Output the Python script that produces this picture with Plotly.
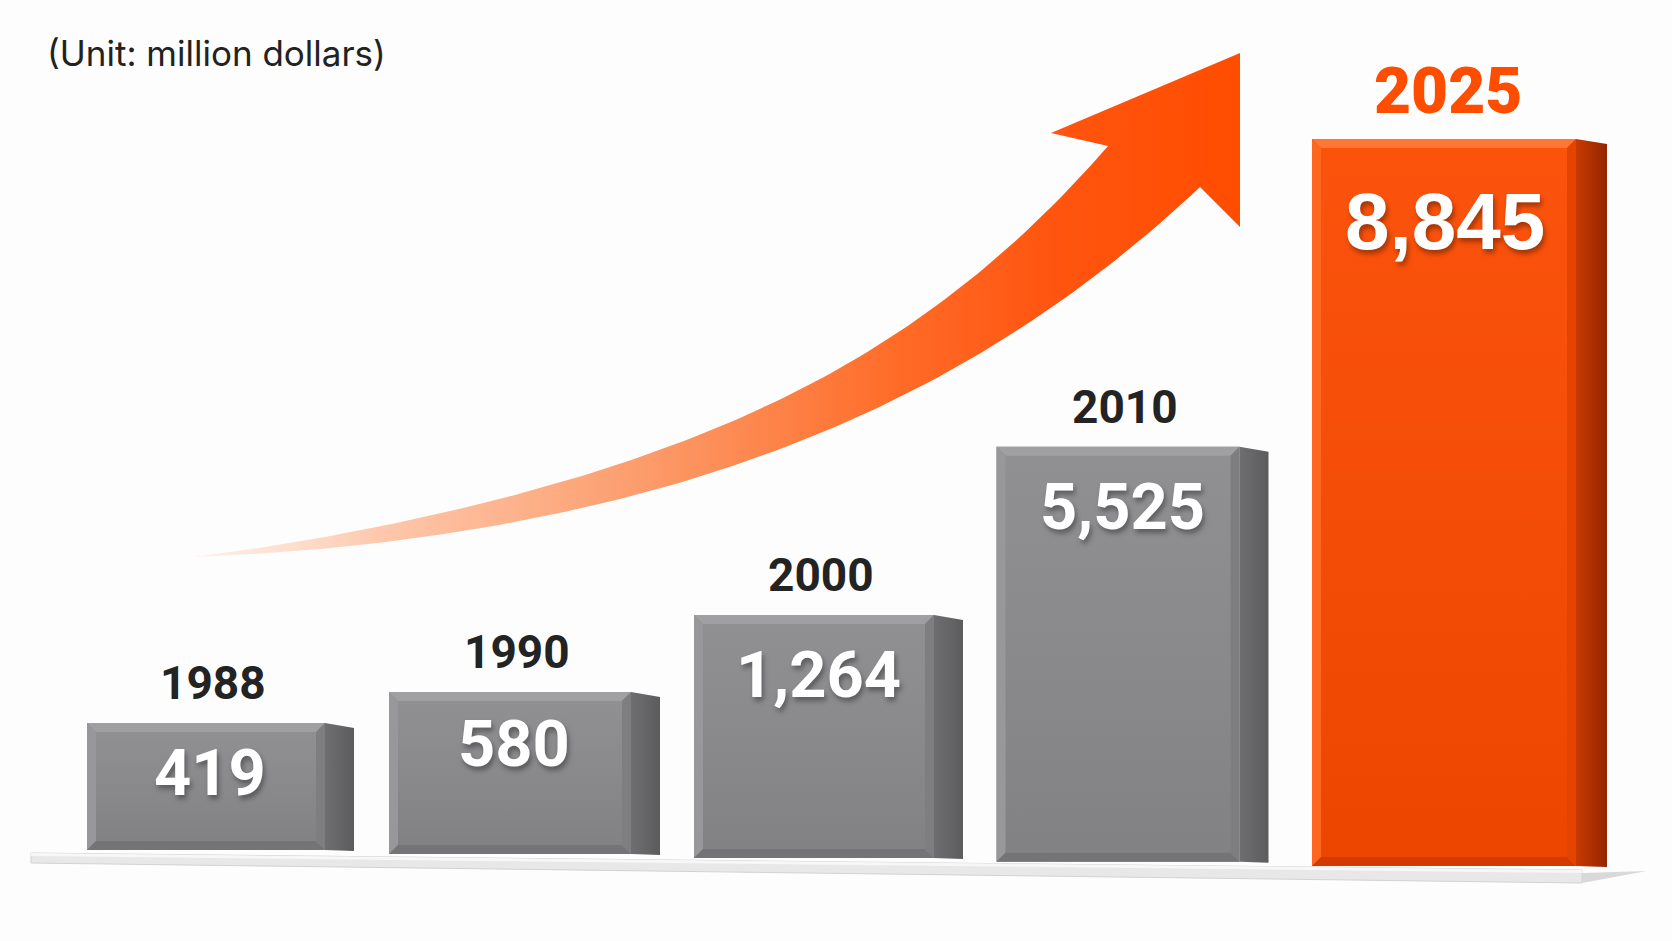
import numpy as np
import plotly.graph_objects as go

# ---------------- data ----------------
years = ["1988", "1990", "2000", "2010", "2025"]
values = [419, 580, 1264, 5525, 8845]            # million dollars
value_labels = [f"{v:,}" for v in values]
# bar heights as drawn in the reference graphic (the drawing is not to scale)
drawn_heights = [127, 162, 243, 415, 727]
unit_note = "(Unit: million dollars)"
highlight_index = 4

# ---------------- canvas geometry (styling) ----------------
W, H = 1672, 941
SLOT_PX = 304          # pixels between category centres
FIRST_PX = 206         # pixel centre of first category
FLOOR_PX = 858         # pixel row of y = 0


def px2x(px):
    return (np.asarray(px, float) - FIRST_PX) / SLOT_PX


def py2y(py):
    return FLOOR_PX - np.asarray(py, float)


n = len(years)
idx = np.arange(n)
face_w_px = np.array([238, 242, 240, 243, 264], float)
shift_px = np.where(idx == highlight_index, 22.0, 0.0)
widths = face_w_px / SLOT_PX
offsets = -widths / 2 + shift_px / SLOT_PX
centers_px = FIRST_PX + idx * SLOT_PX + shift_px
bases = 8 - 0.013 * (centers_px - FIRST_PX)          # perspective tilt of floor

GRAY = dict(face="#8a8a8d", top="#a0a0a3", left="#98989b", bottom="#747477",
            right="#7e7e81", side0="#6e6e71", side1="#5d5b5c", year="#232323")
ORANGE = dict(face="#fb4a00", top="#ff7635", left="#ff6620", bottom="#d23a00",
              right="#e54400", side0="#c83a00", side1="#932500", year="#ff4d00")

fig = go.Figure()

# floor slab (decoration)
def path(pts):
    xs = px2x([p[0] for p in pts])
    ys = py2y([p[1] for p in pts])
    return "M " + " L ".join(f"{a:.5f},{b:.3f}" for a, b in zip(xs, ys)) + " Z"

fig.add_shape(type="path", path=path([(31, 853), (1582, 870), (1582, 883), (31, 863)]),
              fillcolor="#e8e8e8", line=dict(color="#d2d2d2", width=1), layer="below")
fig.add_shape(type="path", path=path([(31, 853), (1582, 870), (1582, 873), (31, 856)]),
              fillcolor="#f7f7f7", line=dict(width=0), layer="below")
fig.add_shape(type="path", path=path([(1582, 873), (1647, 871), (1582, 883)]),
              fillcolor="#d9d9d9", line=dict(width=0), layer="below")

# front faces of the bars
colors = [ORANGE["face"] if i == highlight_index else GRAY["face"] for i in idx]
fig.add_trace(go.Bar(
    x=idx, y=drawn_heights, base=bases, width=widths, offset=offsets,
    marker=dict(color=colors, line=dict(width=0)),
    customdata=values, hovertemplate="%{customdata:,}<extra></extra>",
))


def poly(xs, ys, color=None, grad=None):
    kw = dict(x=list(xs) + [xs[0]], y=list(ys) + [ys[0]], mode="lines",
              line=dict(width=0), fill="toself", hoverinfo="skip", showlegend=False)
    if grad is not None:
        kw["fillgradient"] = grad
    else:
        kw["fillcolor"] = color
    fig.add_trace(go.Scatter(**kw))


B = 9                     # bevel size in px
bx = B / SLOT_PX
for i in idx:
    pal = ORANGE if i == highlight_index else GRAY
    L = i + offsets[i]
    R = L + widths[i]
    Bt = bases[i]
    T = bases[i] + drawn_heights[i]
    side_w = (31 if i == highlight_index else 29) / SLOT_PX
    # side face
    poly([R, R + side_w, R + side_w, R], [T, T - 5, Bt - 1, Bt],
         grad=dict(type="horizontal", colorscale=[[0, pal["side0"]], [1, pal["side1"]]]))
    # bevels
    poly([L, R, R - bx, L + bx], [T, T, T - B, T - B], color=pal["top"])
    poly([L, L + bx, L + bx, L], [T, T - B, Bt + B, Bt], color=pal["left"])
    poly([L, L + bx, R - bx, R], [Bt, Bt + B, Bt + B, Bt], color=pal["bottom"])
    poly([R, R - bx, R - bx, R], [T, T - B, Bt + B, Bt], color=pal["right"])
    # subtle vertical shading of the face
    poly([L + bx, R - bx, R - bx, L + bx], [T - B, T - B, Bt + B, Bt + B],
         grad=dict(type="vertical", colorscale=[[0, "rgba(0,0,0,0.06)"],
                                                 [1, "rgba(255,255,255,0.05)"]]))

# ---------------- rising arrow (decoration) ----------------
def smooth_edge(pts, deg=4, k=120):
    P = np.array(pts, float)
    c = np.polyfit(P[:, 0], P[:, 1], deg)
    xs = np.linspace(P[0, 0], P[-1, 0], k)
    ys = np.polyval(c, xs)
    # pin the end points exactly
    e0 = P[0, 1] - ys[0]
    e1 = P[-1, 1] - ys[-1]
    ys = ys + e0 + (e1 - e0) * (xs - xs[0]) / (xs[-1] - xs[0])
    return np.column_stack([xs, ys])

upper = smooth_edge([(193, 557), (310, 539), (380, 527), (513, 495), (620, 463),
                     (720, 427), (820, 378), (920, 317), (1003, 253), (1053, 203),
                     (1108, 146)])
lower = smooth_edge([(193, 557), (300, 553), (380, 543), (513, 520), (620, 500),
                     (720, 473), (853, 417), (953, 370), (1037, 317), (1103, 270),
                     (1140, 240), (1200, 187)])
head = np.array([(1051, 133), (1240, 53), (1240, 227)], float)
outline = np.vstack([upper, head, lower[::-1]])
fig.add_trace(go.Scatter(
    x=px2x(outline[:, 0]), y=py2y(outline[:, 1]), mode="lines", fill="toself",
    line=dict(width=0), hoverinfo="skip", showlegend=False,
    fillgradient=dict(type="horizontal", colorscale=[
        [0.0, "rgba(253,226,212,0.5)"], [0.18, "#fec7ab"], [0.31, "#fdb28b"],
        [0.47, "#fc9460"], [0.67, "#ff6c28"], [0.82, "#ff5510"], [1.0, "#ff4d00"]]),
))

# ---------------- labels ----------------
BOLD = "Roboto, Liberation Sans, sans-serif"
tops = bases + np.array(drawn_heights, float)
for i in idx:
    hi = i == highlight_index
    xc = px2x(centers_px[i] + (4 if hi else 7))
    fig.add_annotation(
        x=xc, y=tops[i] + (48 if hi else 40), text=years[i], showarrow=False,
        xanchor="center", yanchor="middle",
        font=dict(family=BOLD, size=64 if hi else 46,
                  color=(ORANGE if hi else GRAY)["year"],
                  weight=900 if hi else 700))
    drop = 82 if hi else (50 if drawn_heights[i] < 140 else (52 if drawn_heights[i] < 200 else 60))
    fig.add_annotation(
        x=px2x(centers_px[i] + (1 if hi else 4)), y=tops[i] - drop, text=value_labels[i],
        showarrow=False, xanchor="center", yanchor="middle",
        font=dict(family="Liberation Sans, Arial, sans-serif" if hi else BOLD,
                  size=80 if hi else 65, color="white", weight=700,
                  shadow="2px 4px 5px rgba(0,0,0,0.35)"))

fig.add_annotation(x=px2x(45), y=py2y(53), text=unit_note, showarrow=False,
                   xanchor="left", yanchor="middle",
                   font=dict(family="Inter, Roboto, sans-serif", size=35, color="#222222"))

fig.update_layout(
    width=W, height=H, margin=dict(l=0, r=0, t=0, b=0),
    paper_bgcolor="#fdfdfd", plot_bgcolor="#fdfdfd", showlegend=False,
    barmode="overlay",
    xaxis=dict(range=[px2x(0), px2x(W)], visible=False, fixedrange=True),
    yaxis=dict(range=[py2y(H), py2y(0)], visible=False, fixedrange=True),
)

fig.write_html("out.html", config={"displayModeBar": False})
